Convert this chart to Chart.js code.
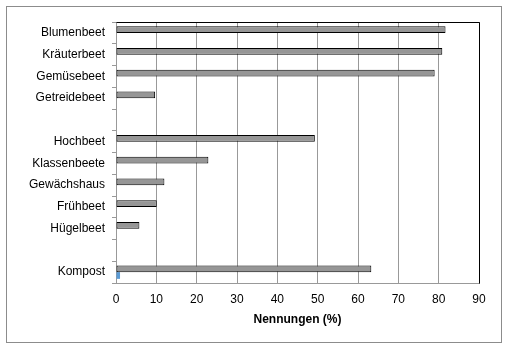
<!DOCTYPE html>
<html><head><meta charset="utf-8">
<script src="https://cdn.jsdelivr.net/npm/chart.js@4/dist/chart.umd.min.js"></script>
<style>html,body{margin:0;padding:0;background:#fff}#wrap{position:relative;width:510px;height:351px}</style>
</head><body><div id="wrap"><canvas id="c" width="510" height="351"></canvas></div>
<script>
const categories = ['Blumenbeet','Kräuterbeet','Gemüsebeet','Getreidebeet','','Hochbeet','Klassenbeete','Gewächshaus','Frühbeet','Hügelbeet','','Kompost'];
const nennungen = [81.7, 80.9, 79.0, 9.7, null, 49.3, 22.9, 12.0, 10.1, 5.8, null, 63.3];
const zweiteReihe = [null, null, null, null, null, null, null, null, null, null, null, 1.0];
const xTicks = [0,10,20,30,40,50,60,70,80,90];
const xTitle = 'Nennungen (%)';

const frame = {
  id: 'frame',
  afterDraw(chart) {
    const ctx = chart.ctx, a = chart.chartArea;
    ctx.save();
    ctx.strokeStyle = '#000'; ctx.lineWidth = 1;
    ctx.beginPath();
    ctx.moveTo(Math.round(a.left)+0.5, Math.round(a.top)+0.5);
    ctx.lineTo(Math.round(a.right)+0.5, Math.round(a.top)+0.5);
    ctx.lineTo(Math.round(a.right)+0.5, Math.round(a.bottom)+0.5);
    ctx.stroke();
    ctx.strokeStyle = '#8c8c8c';
    ctx.strokeRect(6.5, 6.5, 495, 336);
    ctx.restore();
  }
};

new Chart(document.getElementById('c'), {
  type: 'bar',
  data: {
    labels: categories,
    datasets: [
      { data: nennungen, backgroundColor: '#969696', borderColor: '#000', borderWidth: 1, borderSkipped: false, categoryPercentage: 0.62, barPercentage: 1 },
      { data: zweiteReihe, backgroundColor: '#5b9bd5', borderWidth: 0, categoryPercentage: 0.62, barPercentage: 1 }
    ]
  },
  options: {
    indexAxis: 'y',
    responsive: false,
    animation: false,
    devicePixelRatio: 1,
    layout: { padding: { left: 0, right: 31, top: 22, bottom: 24 } },
    plugins: { legend: { display: false }, tooltip: { enabled: false } },
    scales: {
      y: {
        afterFit(s) { s.width = 116; },
        ticks: { autoSkip: false, color: '#000', font: { family: 'Liberation Sans, Arial', size: 12 }, padding: 7 },
        grid: { drawOnChartArea: false, tickLength: 4, color: '#999' },
        border: { color: '#999' }
      },
      x: {
        min: 0, max: 90,
        afterFit(s) { s.height = 44; },
        afterBuildTicks(s) { s.ticks = xTicks.map(v => ({ value: v })); },
        ticks: { color: '#000', font: { family: 'Liberation Sans, Arial', size: 12 }, padding: 9, maxRotation: 0 },
        grid: { color: '#999', drawTicks: false },
        border: { color: '#999' },
        title: { display: true, text: xTitle, color: '#000', font: { family: 'Liberation Sans, Arial', size: 12, weight: 'bold' }, padding: { top: 4, bottom: 0 } }
      }
    }
  },
  plugins: [frame]
});
</script></body></html>
